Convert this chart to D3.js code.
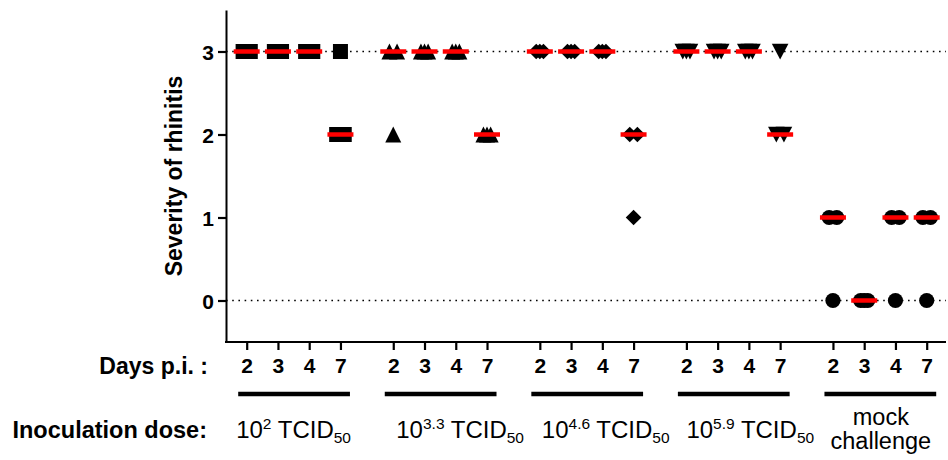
<!DOCTYPE html>
<html>
<head>
<meta charset="utf-8">
<script src="https://cdn.jsdelivr.net/npm/d3@7"></script>
<style>
  body { margin: 0; background: #fff; }
  svg { display: block; font-family: Arial, "Liberation Sans", sans-serif; }
</style>
</head>
<body>
<div class="chart"></div>
<script>
// chart values (3 animals per time point)
var days = ["2", "3", "4", "7"];
var doseBase = ["10", "10", "10", "10"];
var doseExp = ["2", "3.3", "4.6", "5.9"];
var mockLabel = ["mock", "challenge"];
var yTicks = [0, 1, 2, 3];
var symbols = ["square", "triangleUp", "diamond", "triangleDown", "circle"];

var dose1 = [[3, 3, 3], [3, 3, 3], [3, 3, 3], [3, 2, 2]];
var dose2 = [[3, 3, 2], [3, 3, 3], [3, 3, 3], [2, 2, 2]];
var dose3 = [[3, 3, 3], [3, 3, 3], [3, 3, 3], [2, 2, 1]];
var dose4 = [[3, 3, 3], [3, 3, 3], [3, 3, 3], [3, 2, 2]];
var mock = [[1, 1, 0], [0, 0, 0], [1, 1, 0], [1, 1, 0]];
var groups = [dose1, dose2, dose3, dose4, mock];

var svgWidth = 948;
var svgHeight = 460;
var plot = { left: 226, right: 946, top: 10, bottom: 342 };
var groupStep = 4.69; // spacing between groups in "column" units

var svg = d3.select(".chart")
  .append("svg")
  .attr("width", svgWidth)
  .attr("height", svgHeight);

var yScale = d3.scaleLinear().domain([-0.5, 3.5]).range([plot.bottom, plot.top]);
var xScale = d3.scaleLinear()
  .domain([0, 4 * groupStep + 3])
  .range([246.7, 926.7]);

function colPos(g, i) { return g * groupStep + i; }

// dotted reference lines at 0 and 3
svg.selectAll(".ref")
  .data([0, 3])
  .enter().append("line")
  .attr("x1", plot.left).attr("x2", plot.right)
  .attr("y1", d => yScale(d)).attr("y2", d => yScale(d))
  .attr("stroke", "#000")
  .attr("stroke-width", 1.6)
  .attr("stroke-dasharray", "1.6,4.6");

// y axis
var yAxis = d3.axisLeft(yScale).tickValues(yTicks).tickFormat(d3.format("d"))
  .tickSize(8).tickSizeOuter(0).tickPadding(4);
var yG = svg.append("g")
  .attr("transform", `translate(${plot.left},0)`)
  .call(yAxis);
yG.select(".domain").attr("stroke-width", 2);
yG.selectAll(".tick line").attr("stroke-width", 2.2);
yG.selectAll(".tick text")
  .attr("font-size", 21).attr("font-weight", "bold").attr("fill", "#000")
  .attr("font-family", "Arial, 'Liberation Sans', sans-serif")
  .attr("dy", "0.36em");

// x axis
var tickPos = [];
var tickLab = {};
groups.forEach(function(g, gi) {
  days.forEach(function(d, di) {
    tickPos.push(colPos(gi, di));
    tickLab[colPos(gi, di)] = d;
  });
});
var xAxis = d3.axisBottom(xScale).tickValues(tickPos).tickSize(8).tickPadding(8)
  .tickFormat(d => tickLab[d]);
var xG = svg.append("g")
  .attr("transform", `translate(0,${plot.bottom})`)
  .call(xAxis);
xG.select(".domain").remove();
xG.selectAll(".tick line").attr("stroke-width", 2.2);
xG.selectAll(".tick text")
  .attr("font-size", 21).attr("font-weight", "bold").attr("fill", "#000")
  .attr("font-family", "Arial, 'Liberation Sans', sans-serif");
svg.append("line")
  .attr("x1", plot.left - 1).attr("x2", plot.right)
  .attr("y1", plot.bottom).attr("y2", plot.bottom)
  .attr("stroke", "#000").attr("stroke-width", 2);

// marker shapes, centred on their bounding box
function shapePath(type) {
  if (type === "square") return "M-7.5,-7.5H7.5V7.5H-7.5Z";
  if (type === "triangleUp") return "M0,-8L8,8H-8Z";
  if (type === "triangleDown") return "M0,8L8.3,-7.8H-8.3Z";
  if (type === "diamond") return "M0,-7.8L7.8,0L0,7.8L-7.8,0Z";
  return d3.symbol(d3.symbolCircle, Math.PI * 7.6 * 7.6)();
}

// spread duplicate values sideways like the scatter dot plot does
var spread = { 1: [0], 2: [-3.8, 3.8], 3: [-3.6, 0, 3.6] };

var points = [];
var medians = [];
groups.forEach(function(g, gi) {
  g.forEach(function(vals, di) {
    var counts = d3.rollup(vals, v => v.length, v => v);
    var seen = new Map();
    vals.forEach(function(v) {
      var k = seen.get(v) || 0;
      seen.set(v, k + 1);
      points.push({ g: gi, d: di, v: v, off: spread[counts.get(v)][k] });
    });
    medians.push({ g: gi, d: di, v: d3.median(vals) });
  });
});

svg.append("g").selectAll("path")
  .data(points)
  .enter().append("path")
  .attr("d", p => shapePath(symbols[p.g]))
  .attr("transform", p => `translate(${xScale(colPos(p.g, p.d)) + p.off},${yScale(p.v)})`)
  .attr("fill", "#000");

svg.append("g").selectAll("line")
  .data(medians)
  .enter().append("line")
  .attr("x1", m => xScale(colPos(m.g, m.d)) - 13)
  .attr("x2", m => xScale(colPos(m.g, m.d)) + 13)
  .attr("y1", m => yScale(m.v)).attr("y2", m => yScale(m.v))
  .attr("stroke", "#ff0000")
  .attr("stroke-width", 4.5);

// y title
svg.append("text")
  .attr("transform", `translate(182,${(plot.top + plot.bottom) / 2}) rotate(-90)`)
  .attr("text-anchor", "middle")
  .attr("font-size", 23).attr("font-weight", "bold")
  .text("Severity of rhinitis");

// row labels
svg.append("text")
  .attr("x", 208).attr("y", 374)
  .attr("text-anchor", "end")
  .attr("font-size", 23).attr("font-weight", "bold")
  .text("Days p.i. :");
svg.append("text")
  .attr("x", 207).attr("y", 438)
  .attr("text-anchor", "end")
  .attr("font-size", 23.5).attr("font-weight", "bold")
  .text("Inoculation dose:");

// group bars
svg.append("g").selectAll("line")
  .data(groups)
  .enter().append("line")
  .attr("x1", (g, gi) => xScale(colPos(gi, 0)) - 8.5)
  .attr("x2", (g, gi) => xScale(colPos(gi, 3)) + 9.5)
  .attr("y1", 394).attr("y2", 394)
  .attr("stroke", "#000")
  .attr("stroke-width", 4.4);

// dose labels
var labelShift = [0, 20, 19, 17];
doseExp.forEach(function(e, i) {
  var cx = (xScale(colPos(i, 0)) + xScale(colPos(i, 3))) / 2 + labelShift[i];
  var t = svg.append("text")
    .attr("x", cx).attr("y", 438)
    .attr("text-anchor", "middle")
    .attr("font-size", 24);
  t.append("tspan").text(doseBase[i]);
  t.append("tspan").attr("font-size", 15.5).attr("dy", -9).text(e);
  t.append("tspan").attr("dy", 9).text(" TCID");
  t.append("tspan").attr("font-size", 15.5).attr("dy", 5).text("50");
});
var mx = (xScale(colPos(4, 0)) + xScale(colPos(4, 3))) / 2 + 1;
svg.selectAll(".mock")
  .data(mockLabel)
  .enter().append("text")
  .attr("x", mx)
  .attr("y", (d, i) => 425 + i * 24)
  .attr("text-anchor", "middle")
  .attr("font-size", 23.5)
  .text(d => d);
</script>
</body>
</html>
